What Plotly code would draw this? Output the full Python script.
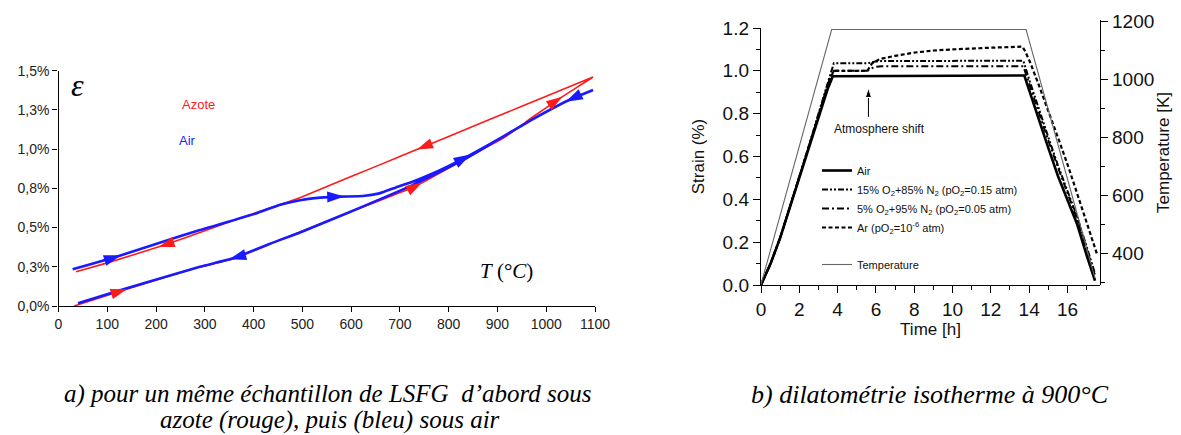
import numpy as np
import plotly.graph_objects as go

# ---------------- data: left panel (T in °C, strain in %) ----------------
red_heat_T = [32, 133, 290, 358, 453, 590, 733, 835, 917, 970, 1026, 1096]
red_heat_E = [0.0, 0.10, 0.25, 0.30, 0.42, 0.59, 0.765, 0.94, 1.08, 1.20, 1.32, 1.46]
red_cool_T = [1096, 1000, 900, 800, 747, 700, 600, 500, 453, 400, 300, 214, 100, 36]
red_cool_E = [1.46, 1.337, 1.209, 1.081, 1.013, 0.953, 0.825, 0.697, 0.645, 0.59, 0.48, 0.385, 0.275, 0.219]

blue_heat_T = [29, 119, 214, 290, 405, 453, 498, 521, 576, 624, 658, 692, 726, 760, 835, 897, 972, 1047, 1096]
blue_heat_E = [0.234, 0.314, 0.41, 0.484, 0.59, 0.644, 0.676, 0.686, 0.697, 0.701, 0.718, 0.756, 0.792, 0.835, 0.948, 1.054, 1.19, 1.313, 1.377]
blue_cool_T = [1096, 1047, 972, 897, 835, 726, 590, 494, 453, 358, 290, 133, 40]
blue_cool_E = [1.377, 1.313, 1.19, 1.054, 0.94, 0.771, 0.59, 0.467, 0.42, 0.304, 0.25, 0.106, 0.017]

# arrow locations (temperatures) along each branch
red_heat_arrows = [140, 745, 1033]
red_cool_arrows = [735, 205]
blue_heat_arrows = [128, 586, 845]
blue_cool_arrows = [1040, 350]

left_yticks = [0, 0.25, 0.5, 0.75, 1.0, 1.25, 1.5]
left_yticktext = ["0,0%", "0,3%", "0,5%", "0,8%", "1,0%", "1,3%", "1,5%"]

# ---------------- data: right panel (time in h, strain in %, T in K) ----------------
air_t = [0, 0.5, 1.0, 1.5, 2.0, 2.5, 3.0, 3.5, 3.75, 5, 8, 11, 13.75, 14.0, 14.4, 15.0, 15.5, 16.0, 16.5, 17.0, 17.44]
air_s = [0, 0.10, 0.22, 0.36, 0.50, 0.64, 0.78, 0.92, 0.975, 0.975, 0.976, 0.978, 0.978, 0.91, 0.80, 0.64, 0.51, 0.40, 0.285, 0.14, 0.02]

o15_t = [0, 0.5, 1.0, 1.5, 2.0, 2.5, 3.0, 3.5, 3.8, 5.6, 5.9, 6.3, 8, 11, 13.7, 14.0, 14.4, 15.0, 15.5, 16.0, 16.5, 17.0, 17.45]
o15_s = [0, 0.10, 0.22, 0.36, 0.50, 0.65, 0.80, 0.95, 1.035, 1.036, 1.042, 1.046, 1.047, 1.047, 1.047, 0.96, 0.85, 0.69, 0.56, 0.44, 0.32, 0.18, 0.05]

o5_t = [0, 0.5, 1.0, 1.5, 2.0, 2.5, 3.0, 3.5, 3.8, 5.55, 5.9, 6.3, 8, 11, 13.7, 14.0, 14.4, 15.0, 15.5, 16.0, 16.5, 17.0, 17.45]
o5_s = [0, 0.10, 0.22, 0.36, 0.50, 0.64, 0.79, 0.94, 1.0, 1.0, 1.018, 1.021, 1.021, 1.021, 1.021, 0.94, 0.83, 0.675, 0.55, 0.43, 0.31, 0.17, 0.04]

ar_t = [0, 0.5, 1.0, 1.5, 2.0, 2.5, 3.0, 3.5, 3.8, 5.55, 5.8, 6.2, 7, 8, 9, 10, 11, 12, 13, 13.65, 13.8, 14.05, 14.5, 15.09, 15.6, 16.1, 16.5, 17.0, 17.53]
ar_s = [0, 0.10, 0.22, 0.36, 0.50, 0.64, 0.79, 0.94, 1.0, 1.0, 1.035, 1.055, 1.07, 1.085, 1.095, 1.10, 1.105, 1.108, 1.111, 1.113, 1.09, 1.04, 0.935, 0.795, 0.665, 0.538, 0.43, 0.288, 0.148]

temp_t = [0, 3.69, 13.84, 17.44]
temp_K = [293, 1173, 1173, 314]

# time of the atmosphere change and the strain span of its pointer arrow
shift_t = 5.61
shift_arrow_s = [0.785, 0.92]

FONT = "Liberation Sans, Arial, sans-serif"
SERIF = "Liberation Serif, Times New Roman, serif"
OFF = 8  # page body margin in the browser
W, H = 1181 - OFF, 435 - OFF


def px_x(p):
    return (p - OFF) / W


def px_y(p):
    return 1 - (p - OFF) / H


fig = go.Figure()

# ---- left panel traces
fig.add_trace(go.Scatter(x=red_heat_T + red_cool_T, y=red_heat_E + red_cool_E, mode="lines",
                         line=dict(color="#ff1a1a", width=1.6, shape="spline", smoothing=0.4),
                         xaxis="x", yaxis="y", showlegend=False))
fig.add_trace(go.Scatter(x=blue_heat_T + blue_cool_T, y=blue_heat_E + blue_cool_E, mode="lines",
                         line=dict(color="#1a1aff", width=2.6, shape="spline", smoothing=0.4),
                         xaxis="x", yaxis="y", showlegend=False))


def add_arrows(T, E, arrows, color, size, heating):
    T = np.asarray(T, float)
    E = np.asarray(E, float)
    o = np.argsort(T)
    Ts, Es = T[o], E[o]
    for ta in arrows:
        tb = ta - 10 if heating else ta + 10
        xs = [tb, ta]
        ys = [float(np.interp(tb, Ts, Es)), float(np.interp(ta, Ts, Es))]
        fig.add_trace(go.Scatter(x=xs, y=ys, mode="markers", xaxis="x", yaxis="y", showlegend=False,
                                 hoverinfo="skip",
                                 marker=dict(symbol="arrow", size=[0, size], angleref="previous",
                                             color=color, opacity=1, line=dict(width=0))))


add_arrows(red_heat_T, red_heat_E, red_heat_arrows, "#ff1a1a", 17, True)
add_arrows(red_cool_T, red_cool_E, red_cool_arrows, "#ff1a1a", 17, False)
add_arrows(blue_heat_T, blue_heat_E, blue_heat_arrows, "#1a1aff", 18, True)
add_arrows(blue_cool_T, blue_cool_E, blue_cool_arrows, "#1a1aff", 18, False)

# ---- right panel traces
fig.add_trace(go.Scatter(x=air_t, y=air_s, mode="lines", name="Air",
                         line=dict(color="black", width=2.6), xaxis="x2", yaxis="y2",
                         legendgroup="s"))
fig.add_trace(go.Scatter(x=o15_t, y=o15_s, mode="lines",
                         name="15% O<sub>2</sub>+85% N<sub>2</sub> (pO<sub>2</sub>=0.15 atm)",
                         line=dict(color="black", width=2, dash="6px,2px,2px,2px,2px,2px"),
                         xaxis="x2", yaxis="y2", legendgroup="s"))
fig.add_trace(go.Scatter(x=o5_t, y=o5_s, mode="lines",
                         name="5% O<sub>2</sub>+95% N<sub>2</sub> (pO<sub>2</sub>=0.05 atm)",
                         line=dict(color="black", width=2, dash="7px,3px,2px,3px"),
                         xaxis="x2", yaxis="y2", legendgroup="s"))
fig.add_trace(go.Scatter(x=ar_t, y=ar_s, mode="lines",
                         name="Ar (pO<sub>2</sub>=10<sup>-6</sup> atm)",
                         line=dict(color="black", width=2.2, dash="4px,2.5px"),
                         xaxis="x2", yaxis="y2", legendgroup="s"))
fig.add_trace(go.Scatter(x=temp_t, y=temp_K, mode="lines", name="Temperature",
                         line=dict(color="#666666", width=1.1), xaxis="x2", yaxis="y3",
                         legendgroup="t"))
# pointer arrow for the atmosphere change
fig.add_trace(go.Scatter(x=[shift_t, shift_t], y=shift_arrow_s, mode="lines+markers",
                         xaxis="x2", yaxis="y2", showlegend=False, hoverinfo="skip",
                         line=dict(color="black", width=1),
                         marker=dict(symbol="arrow", size=[0, 10], angleref="previous",
                                     color="black", opacity=1)))

axis_common = dict(showline=True, linecolor="black", linewidth=1.4, ticks="outside",
                   tickcolor="black", tickwidth=1.3, showgrid=False, zeroline=False,
                   automargin=False)

fig.update_layout(
    width=W, height=H, margin=dict(l=0, r=0, t=0, b=0, autoexpand=False),
    paper_bgcolor="white", plot_bgcolor="rgba(0,0,0,0)",
    font=dict(family=FONT, color="#111111"),
    xaxis=dict(domain=[px_x(58.5), px_x(595)], range=[0, 1100], dtick=100, anchor="y",
               ticklen=5, tickfont=dict(size=14, color="#222"), **axis_common),
    yaxis=dict(domain=[px_y(306), px_y(70.7)], range=[0, 1.5], anchor="x",
               tickvals=left_yticks, ticktext=left_yticktext, ticklen=5,
               tickfont=dict(size=14, color="#222"), **axis_common),
    xaxis2=dict(domain=[px_x(761), px_x(1100)], range=[0, 17.7], dtick=2, anchor="y2",
                ticklen=7, tickfont=dict(size=19),
                minor=dict(dtick=1, ticks="outside", ticklen=4, tickcolor="black"),
                title=dict(text="Time [h]", font=dict(size=17), standoff=0), **axis_common),
    yaxis2=dict(domain=[px_y(285), px_y(28)], range=[0, 1.2], dtick=0.2, tickformat=".1f",
                anchor="x2", ticklen=7, tickfont=dict(size=19),
                minor=dict(dtick=0.1, ticks="outside", ticklen=4, tickcolor="black"),
                title=dict(text="Strain (%)", font=dict(size=17), standoff=13), **axis_common),
    yaxis3=dict(domain=[px_y(285), px_y(20)], range=[291, 1206], dtick=200, anchor="x2",
                side="right", ticklen=7, tickfont=dict(size=19),
                minor=dict(dtick=100, ticks="outside", ticklen=4, tickcolor="black"),
                title=dict(text="Temperature [K]", font=dict(size=17), standoff=3), **axis_common),
    legend=dict(x=px_x(817), y=px_y(156), xanchor="left", yanchor="top",
                font=dict(size=11, family=FONT), bgcolor="rgba(0,0,0,0)",
                traceorder="grouped", tracegroupgap=18, itemwidth=30),
)

# ---- text annotations
ann = [
    dict(text="<i>ε</i>", x=px_x(77), y=px_y(85), font=dict(family=SERIF, size=32, color="black")),
    dict(text="Azote", x=px_x(198), y=px_y(104), font=dict(family=FONT, size=13, color="#ff1a1a")),
    dict(text="Air", x=px_x(187), y=px_y(140), font=dict(family=FONT, size=13, color="#1a1aff")),
    dict(text="<i>T</i> (°<i>C</i>)", x=px_x(506), y=px_y(271), font=dict(family=SERIF, size=21, color="black")),
    dict(text="<i>a) pour un même échantillon de LSFG  d’abord sous</i>", x=px_x(328), y=px_y(394),
         font=dict(family=SERIF, size=25, color="black")),
    dict(text="<i>azote (rouge), puis (bleu) sous air</i>", x=px_x(330), y=px_y(420),
         font=dict(family=SERIF, size=25, color="black")),
    dict(text="<i>b) dilatométrie isotherme à 900°C</i>", x=px_x(930), y=px_y(394),
         font=dict(family=SERIF, size=26, color="black")),
    dict(text="Atmosphere shift", x=px_x(879), y=px_y(129), font=dict(family=FONT, size=12, color="#111")),
]
for a in ann:
    fig.add_annotation(xref="paper", yref="paper", showarrow=False, xanchor="center", yanchor="middle", **a)

fig.write_html("out.html")
